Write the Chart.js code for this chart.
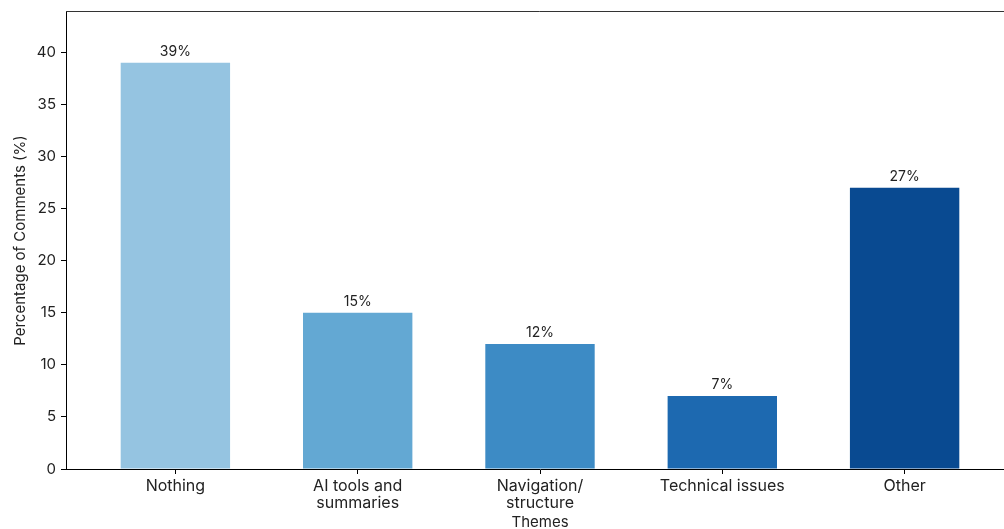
<!DOCTYPE html>
<html>
<head>
<meta charset="utf-8">
<script src="https://cdn.jsdelivr.net/npm/chart.js@4"></script>
<style>
  html, body { margin: 0; padding: 0; background: #fff; overflow: hidden; }
  #wrap { width: 1004px; height: 529px; overflow: hidden; }
</style>
</head>
<body>
<div id="wrap"><canvas id="chart-themes" width="1014" height="529"></canvas></div>
<script>
const categories = ["Nothing", ["AI tools and", "summaries"], ["Navigation/", "structure"], "Technical issues", "Other"];
const percentages = [39, 15, 12, 7, 27];
const barColors = ["#95c4e1", "#63a8d3", "#3d8bc5", "#1d69b0", "#094a91"];
const yTicks = [0, 5, 10, 15, 20, 25, 30, 35, 40];

document.addEventListener("DOMContentLoaded", main);

function main() {
  Chart.defaults.font.family = "Inter, 'Noto Sans', sans-serif";
  Chart.defaults.color = "#222";

  // value labels above bars + frame around plot
  const barLabels = {
    id: "barLabels",
    afterDatasetsDraw(chart) {
      const ctx = chart.ctx;
      const meta = chart.getDatasetMeta(0);
      ctx.save();
      ctx.font = "14px Inter, 'Noto Sans', sans-serif";
      ctx.fillStyle = "#222";
      ctx.textAlign = "center";
      ctx.textBaseline = "bottom";
      meta.data.forEach((bar, i) => {
        ctx.fillText(percentages[i] + "%", bar.x, bar.y - 4);
      });
      const a = chart.chartArea;
      ctx.strokeStyle = "#333";
      ctx.lineWidth = 1;
      ctx.beginPath();
      ctx.moveTo(a.left, a.top - 0.5);
      ctx.lineTo(a.right - 0.5, a.top - 0.5);
      ctx.lineTo(a.right - 0.5, a.bottom);
      ctx.stroke();
      ctx.restore();
    },
  };

  new Chart(document.getElementById("chart-themes").getContext("2d"), {
    type: "bar",
    data: {
      datasets: [
        {
          label: "Percentage of Comments (%)",
          data: percentages.map((v, i) => ({ x: i, y: v })),
          backgroundColor: barColors,
          borderWidth: 0,
          barPercentage: 0.6,
          categoryPercentage: 1,
        },
      ],
    },
    options: {
      responsive: false,
      animation: false,
      layout: { padding: { top: 12, right: 0, bottom: 0, left: 0 } },
      plugins: { legend: { display: false }, tooltip: { enabled: false } },
      scales: {
        x: {
          type: "linear",
          min: -0.6,
          max: 4.6,
          offset: false,
          afterBuildTicks: (s) => { s.ticks = categories.map((_, i) => ({ value: i })); },
          afterFit: (s) => { s.height = 60; s.paddingLeft = 0; s.paddingRight = 0; },
          ticks: {
            callback: (v) => categories[v],
            font: { size: 16, lineHeight: 1.05 },
            color: "#222",
            padding: 4,
            maxRotation: 0,
            autoSkip: false,
          },
          grid: { display: true, offset: false, drawOnChartArea: false, drawTicks: true, tickLength: 5, color: "#000" },
          border: { display: true, color: "#000", width: 1 },
          title: { display: true, text: "Themes", font: { size: 15 }, color: "#222", padding: { top: 0, bottom: -2 } },
        },
        y: {
          min: 0,
          max: 43.875,
          afterBuildTicks: (s) => { s.ticks = yTicks.map((v) => ({ value: v })); },
          afterFit: (s) => { s.width = 66; s.paddingTop = 0; s.paddingBottom = 0; },
          ticks: { font: { size: 15 }, color: "#222", padding: 5 },
          grid: { display: true, drawOnChartArea: false, drawTicks: true, tickLength: 5, color: "#000" },
          border: { display: true, color: "#000", width: 1 },
          title: { display: true, text: "Percentage of Comments (%)", font: { size: 15 }, color: "#222", padding: { top: 11, bottom: 0 } },
        },
      },
    },
    plugins: [barLabels],
  });
}
</script>
</body>
</html>
